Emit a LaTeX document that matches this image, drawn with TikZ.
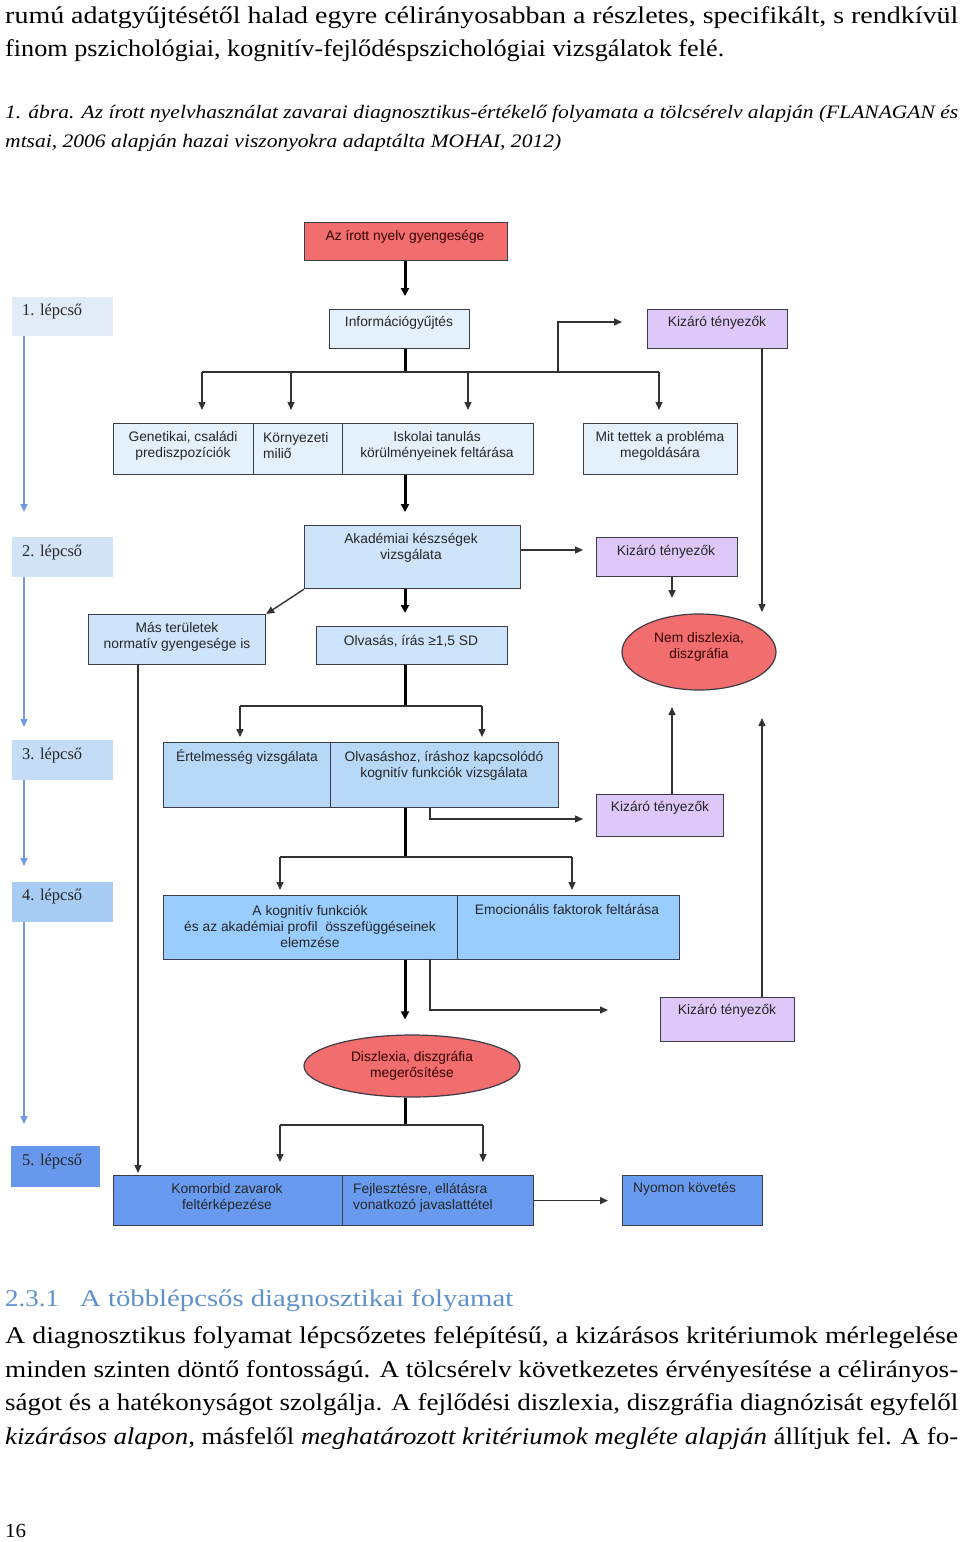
\documentclass[tikz,border=0pt]{standalone}
\usepackage{fontspec}
\usepackage{graphicx}
\setmainfont{Liberation Serif}
\newfontfamily\sansf{Liberation Sans}
\usetikzlibrary{arrows.meta,shapes.geometric}
\definecolor{redf}{RGB}{242,110,110}
\definecolor{blA}{RGB}{228,240,252}
\definecolor{blB}{RGB}{206,228,250}
\definecolor{blC}{RGB}{184,216,248}
\definecolor{blD}{RGB}{153,204,255}
\definecolor{blE}{RGB}{104,155,240}
\definecolor{lav}{RGB}{222,200,250}
\definecolor{stA}{RGB}{226,236,248}
\definecolor{stB}{RGB}{212,228,248}
\definecolor{stC}{RGB}{196,220,246}
\definecolor{stD}{RGB}{168,204,244}
\definecolor{stE}{RGB}{104,152,236}
\definecolor{scol}{RGB}{110,155,225}
\definecolor{bord}{RGB}{60,60,72}
\definecolor{lcol}{RGB}{50,50,50}
\definecolor{headc}{RGB}{95,145,205}
\newcommand\mybox[6]{\node[box,#2,minimum width={(#5)-(#3)},minimum height={(#6)-(#4)}] (#1) at (#3,#4) {};}
\newcommand\txline[5]{\node[anchor=base west,inner sep=0,#5] (#1) at (#2) {\resizebox{#3pt}{\height}{#4}};}
\begin{document}
\begin{tikzpicture}[x=1pt,y=-1pt,
  box/.style={draw=bord,line width=1.2pt,inner sep=0,anchor=north west},
  stepbox/.style={inner sep=0,anchor=north west},
  dtext/.style={font=\sansf\fontsize{13.8}{16}\selectfont,align=center,inner sep=0,text=black!85},
  steptext/.style={font=\fontsize{16.5}{18}\selectfont,inner sep=0,anchor=west,text=black!85},
  thin/.style={draw=lcol,line width=1.4pt},
  thk/.style={draw=black,line width=3pt},
  arr/.style={-{Triangle[length=8pt,width=7pt]}},
  tarr/.style={-{Triangle[length=8pt,width=8pt]}},
  sarr/.style={draw=scol,line width=1.3pt,-{Triangle[length=8pt,width=7pt]}},
  body/.style={font=\fontsize{24}{34}\selectfont,text=black},
  capt/.style={font=\itshape\fontsize{19}{29}\selectfont,text=black}]
\useasboundingbox (0,0) rectangle (960,1542);
\fill[white] (0,0) rectangle (960,1542);

% ---------- page text ----------
\txline{l1}{5,23}{953}{rumú adatgyűjtésétől halad egyre célirányosabban a részletes, specifikált, s rendkívül}{body}
\txline{l2}{5,56}{719}{finom pszichológiai, kognitív-fejlődéspszichológiai vizsgálatok felé.}{body}
\txline{c1}{5,118}{953}{1. ábra. Az írott nyelvhasználat zavarai diagnosztikus-értékelő folyamata a tölcsérelv alapján (FLANAGAN és}{capt}
\txline{c2}{5,147}{556}{mtsai, 2006 alapján hazai viszonyokra adaptálta MOHAI, 2012)}{capt}
\txline{h1}{5,1306}{54}{2.3.1}{body,text=headc}
\txline{h2}{80,1306}{433}{A többlépcsős diagnosztikai folyamat}{body,text=headc}
\txline{p1}{5,1343}{953}{A diagnosztikus folyamat lépcsőzetes felépítésű, a kizárásos kritériumok mérlegelése}{body}
\txline{p2}{5,1377}{953}{minden szinten döntő fontosságú. A tölcsérelv következetes érvényesítése a célirányos-}{body}
\txline{p3}{5,1410}{953}{ságot és a hatékonyságot szolgálja. A fejlődési diszlexia, diszgráfia diagnózisát egyfelől}{body}
\txline{p4}{5,1444}{953}{\textit{kizárásos alapon}, másfelől \textit{meghatározott kritériumok megléte alapján} állítjuk fel. A fo-}{body}
\txline{pg}{5,1537}{21}{16}{body,font=\fontsize{20}{24}\selectfont}

% ---------- step labels ----------
\node[stepbox,fill=stA,minimum width=101,minimum height=39] (s1) at (12,297) {};
\node[stepbox,fill=stB,minimum width=101,minimum height=40] (s2) at (12,537) {};
\node[stepbox,fill=stC,minimum width=101,minimum height=40] (s3) at (12,740) {};
\node[stepbox,fill=stD,minimum width=101,minimum height=40] (s4) at (12,882) {};
\node[stepbox,fill=stE,minimum width=89,minimum height=41] (s5) at (11,1146) {};
\node[steptext] (ts1) at (22,312) {1. lépcső};
\node[steptext] (ts2) at (22,553) {2. lépcső};
\node[steptext] (ts3) at (22,756) {3. lépcső};
\node[steptext] (ts4) at (22,897) {4. lépcső};
\node[steptext] (ts5) at (22,1162) {5. lépcső};
\coordinate (st1) at (24,512);
\coordinate (st2) at (24,727);
\coordinate (st3) at (24,866);
\coordinate (st4) at (24,1124);
\draw[sarr] (s1.south -| st1) -- (st1);
\draw[sarr] (s2.south -| st2) -- (st2);
\draw[sarr] (s3.south -| st3) -- (st3);
\draw[sarr] (s4.south -| st4) -- (st4);

% ---------- boxes ----------
\mybox{top}{fill=redf}{304}{222}{507}{260}
\mybox{info}{fill=blA}{329}{309}{469}{348}
\mybox{kiz1}{fill=lav}{647}{309}{787}{348}
\mybox{gen}{fill=blA}{113}{423}{253}{474}
\mybox{kor}{fill=blA}{253}{423}{342}{474}
\mybox{isk}{fill=blA}{342}{423}{533}{474}
\mybox{mit}{fill=blA}{583}{423}{737}{474}
\mybox{aka}{fill=blB}{304}{525}{520}{588}
\mybox{kiz2}{fill=lav}{596}{537}{737}{576}
\mybox{mas}{fill=blB}{88}{614}{265}{664}
\mybox{olv}{fill=blB}{316}{626}{507}{664}
\node[ellipse,draw=bord,fill=redf,line width=1.2pt,inner sep=0,minimum width=154,minimum height=76] (nem) at (699,652) {};
\mybox{ert}{fill=blC}{163}{742}{330}{807}
\mybox{olh}{fill=blC}{330}{742}{558}{807}
\mybox{kiz3}{fill=lav}{596}{794}{723}{836}
\mybox{kog}{fill=blD}{163}{895}{457}{959}
\mybox{emo}{fill=blD}{457}{895}{679}{959}
\mybox{kiz4}{fill=lav}{660}{997}{794}{1041}
\node[ellipse,draw=bord,fill=redf,line width=1.2pt,inner sep=0,minimum width=216,minimum height=62] (dis) at (412,1066) {};
\mybox{kom}{fill=blE}{113}{1175}{342}{1225}
\mybox{fej}{fill=blE}{342}{1175}{533}{1225}
\mybox{nyo}{fill=blE}{622}{1175}{762}{1225}

% ---------- box texts ----------
\node[dtext,text=black!80!red] (ttop) at (405,237) {Az írott nyelv gyengesége};
\node[dtext] (tinfo) at (399,323) {Információgyűjtés};
\node[dtext] (tkiz1) at (717,323) {Kizáró tényezők};
\node[dtext] (tgen) at (183,446) {Genetikai, családi\\prediszpozíciók};
\node[dtext,align=left,anchor=west] (tkor) at (263,446) {Környezeti\\miliő};
\node[dtext] (tisk) at (437,446) {Iskolai tanulás\\körülményeinek feltárása};
\node[dtext] (tmit) at (660,446) {Mit tettek a probléma\\megoldására};
\node[dtext] (taka) at (411,548) {Akadémiai készségek\\vizsgálata};
\node[dtext] (tkiz2) at (666,552) {Kizáró tényezők};
\node[dtext] (tmas) at (177,637) {Más területek\\normatív gyengesége is};
\node[dtext] (tolv) at (411,641) {Olvasás, írás ≥1,5 SD};
\node[dtext,text=black!80!red] (tnem) at (699,647) {Nem diszlexia,\\diszgráfia};
\node[dtext] (tert) at (247,757) {Értelmesség vizsgálata};
\node[dtext] (tolh) at (444,766) {Olvasáshoz, íráshoz kapcsolódó\\kognitív funkciók vizsgálata};
\node[dtext] (tkiz3) at (660,808) {Kizáró tényezők};
\node[dtext] (tkog) at (310,926) {A kognitív funkciók\\és az akadémiai profil\ \ összefüggéseinek\\elemzése};
\node[dtext] (temo) at (567,909) {Emocionális faktorok feltárása};
\node[dtext] (tkiz4) at (727,1011) {Kizáró tényezők};
\node[dtext,text=black!80!red] (tdis) at (412,1066) {Diszlexia, diszgráfia\\megerősítése};
\node[dtext] (tkom) at (227,1198) {Komorbid zavarok\\feltérképezése};
\node[dtext,align=left,anchor=west] (tfej) at (353,1198) {Fejlesztésre, ellátásra\\vonatkozó javaslattétel};
\node[dtext,anchor=west] (tnyo) at (633,1189) {Nyomon követés};

% ---------- connectors ----------
\coordinate (j1) at (405,372);
\coordinate (jL) at (202,372);
\coordinate (jg) at (291,372);
\coordinate (ji) at (468,372);
\coordinate (jk) at (558,372);
\coordinate (jR) at (659,372);
\coordinate (k1a) at (622,322);
\coordinate (n1) at (762,612);
\draw[thk,tarr,shorten >=13pt] (top.south -| j1) -- (info.north -| j1);
\draw[thk] (info.south -| j1) -- (j1);
\draw[thin] (jL) -- (jR);
\draw[thin,arr,shorten >=13pt] (jL) -- (jL |- gen.north);
\draw[thin,arr,shorten >=13pt] (jg) -- (jg |- kor.north);
\draw[thin,arr,shorten >=13pt] (ji) -- (ji |- isk.north);
\draw[thin,arr,shorten >=13pt] (jR) -- (jR |- mit.north);
\draw[thin,arr] (jk) |- (k1a);
\draw[thin,arr] (kiz1.south -| n1) -- (n1);

\draw[thk,tarr,shorten >=13pt] (isk.south -| j1) -- (aka.north -| j1);
\coordinate (k2a) at (583,550);
\coordinate (n2) at (672,598);
\draw[thin,arr] (aka.east |- k2a) -- (k2a);
\draw[thin,arr] (kiz2.south -| n2) -- (n2);
\draw[thin,arr] (aka.south west) -- (mas.north east);
\draw[thk,tarr,shorten >=13pt] (aka.south -| j1) -- (olv.north -| j1);
\coordinate (m1) at (138,664);
\draw[thin,arr,shorten >=2pt] (m1) -- (kom.north -| m1);

\coordinate (j2) at (405,706);
\coordinate (j2L) at (240,706);
\coordinate (j2R) at (482,706);
\draw[thk] (olv.south -| j2) -- (j2);
\draw[thin] (j2L) -- (j2R);
\draw[thin,arr,shorten >=5pt] (j2L) -- (j2L |- ert.north);
\draw[thin,arr,shorten >=5pt] (j2R) -- (j2R |- olh.north);

\coordinate (j3) at (405,857);
\coordinate (j3L) at (280,857);
\coordinate (j3R) at (572,857);
\draw[thk] (olh.south -| j3) -- (j3);
\draw[thin] (j3L) -- (j3R);
\draw[thin,arr,shorten >=5pt] (j3L) -- (j3L |- kog.north);
\draw[thin,arr,shorten >=5pt] (j3R) -- (j3R |- emo.north);
\coordinate (b3) at (430,807);
\coordinate (k3a) at (583,819);
\draw[thin,arr] (b3) |- (k3a);
\coordinate (n3) at (672,707);
\coordinate (n4) at (762,718);
\draw[thin,arr] (kiz3.north -| n3) -- (n3);
\draw[thin,arr] (kiz4.north -| n4) -- (n4);

\draw[thk,tarr,shorten >=15pt] (kog.south -| j1) -- (dis.north -| j1);
\coordinate (b4) at (430,959);
\coordinate (k4a) at (608,1010);
\draw[thin,arr] (b4) |- (k4a);

\coordinate (j4) at (405,1125);
\coordinate (j4L) at (280,1125);
\coordinate (j4R) at (483,1125);
\draw[thk] (dis.south -| j4) -- (j4);
\draw[thin] (j4L) -- (j4R);
\draw[thin,arr,shorten >=13pt] (j4L) -- (j4L |- kom.north);
\draw[thin,arr,shorten >=13pt] (j4R) -- (j4R |- fej.north);
\draw[thin,arr,shorten >=14pt] (fej.east) -- (nyo.west);
\end{tikzpicture}
\end{document}
